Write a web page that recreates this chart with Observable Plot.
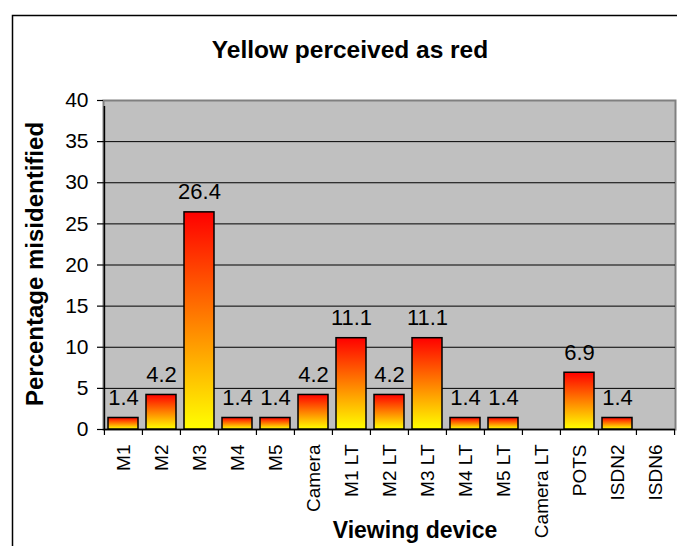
<!DOCTYPE html>
<html>
<head>
<meta charset="utf-8">
<script src="https://cdn.jsdelivr.net/npm/d3@7"></script>
<script src="https://cdn.jsdelivr.net/npm/@observablehq/plot@0.6"></script>
<style>
  html, body { margin: 0; padding: 0; background: white; }
  svg { display: block; }
</style>
</head>
<body>
<div id="chart"></div>
<script>
const categories = ["M1", "M2", "M3", "M4", "M5", "Camera", "M1 LT", "M2 LT", "M3 LT", "M4 LT", "M5 LT", "Camera LT", "POTS", "ISDN2", "ISDN6"];
const values = [1.4, 4.2, 26.4, 1.4, 1.4, 4.2, 11.1, 4.2, 11.1, 1.4, 1.4, 0, 6.9, 1.4, 0];
const yTicks = [0, 5, 10, 15, 20, 25, 30, 35, 40];
const titleText = "Yellow perceived as red";
const xTitle = "Viewing device";
const yTitle = "Percentage misidentified";

const data = categories.map((c, i) => ({cat: c, value: values[i]}));
const shown = data.filter(d => d.value > 0);

const W = 677, H = 546;
const mL = 103, mR = 2, mT = 100, mB = 117;
const step = (W - mL - mR) / categories.length;
const font = "'Liberation Sans', Arial, Helvetica, sans-serif";

const chart = Plot.plot({
  width: W,
  height: H,
  marginLeft: mL,
  marginRight: mR,
  marginTop: mT,
  marginBottom: mB,
  style: {fontFamily: font, background: "white", color: "black"},
  x: {domain: categories, paddingInner: 0.22, paddingOuter: 0.11, label: null, axis: null},
  y: {domain: [0, 40], label: null, axis: null},
  marks: [
    Plot.frame({fill: "#C0C0C0", stroke: "#808080", strokeWidth: 2}),
    Plot.ruleY(yTicks.filter(t => t > 0 && t < 40), {y: d => d, stroke: "black", strokeWidth: 1}),
    Plot.axisY({ticks: yTicks, tickSize: 6, tickPadding: 9, fontSize: 21, label: null, stroke: "black", strokeWidth: 1.2}),
    Plot.axisX({tickSize: 0, tickPadding: 15, tickRotate: -90, fontSize: 19, label: null}),
    Plot.ruleX(categories, {x: d => d, dx: -step / 2, y1: 0, y2: 0, insetBottom: -6, stroke: "black", strokeWidth: 1.2}),
    Plot.ruleX([categories[categories.length - 1]], {x: d => d, dx: step / 2, y1: 0, y2: 0, insetBottom: -6, stroke: "black", strokeWidth: 1.2}),
    Plot.ruleX([categories[0]], {x: d => d, dx: -step / 2, y1: 0, y2: 40, insetBottom: -6, stroke: "black", strokeWidth: 1.5}),
    Plot.ruleY([0], {stroke: "black", strokeWidth: 1.5}),
    Plot.barY(shown, {x: "cat", y: "value", fill: "url(#barGrad)", stroke: "black", strokeWidth: 1.5}),
    Plot.text(shown, {x: "cat", y: "value", text: d => d.value.toFixed(1), dy: -13, lineAnchor: "bottom", fontSize: 22, fill: "black"})
  ]
});

const svg = d3.select(chart);
const defs = svg.insert("defs", ":first-child");
const grad = defs.append("linearGradient").attr("id", "barGrad")
  .attr("x1", 0).attr("y1", 0).attr("x2", 0).attr("y2", 1);
grad.append("stop").attr("offset", "0%").attr("stop-color", "#FF0000");
grad.append("stop").attr("offset", "100%").attr("stop-color", "#FFFF00");

svg.insert("rect", "defs + *")
  .attr("x", 12.5).attr("y", 15.5).attr("width", 700).attr("height", 600)
  .attr("fill", "none").attr("stroke", "black").attr("stroke-width", 1.5);

svg.append("text")
  .attr("x", 350).attr("y", 58)
  .attr("text-anchor", "middle")
  .attr("font-family", font).attr("font-weight", "bold").attr("font-size", 24.5)
  .attr("fill", "black")
  .text(titleText);

svg.append("text")
  .attr("transform", "translate(43,264) rotate(-90)")
  .attr("text-anchor", "middle")
  .attr("font-family", font).attr("font-weight", "bold").attr("font-size", 24)
  .attr("fill", "black")
  .text(yTitle);

svg.append("text")
  .attr("x", 415).attr("y", 538)
  .attr("text-anchor", "middle")
  .attr("font-family", font).attr("font-weight", "bold").attr("font-size", 23)
  .attr("fill", "black")
  .text(xTitle);

document.getElementById("chart").appendChild(chart);
</script>
</body>
</html>
